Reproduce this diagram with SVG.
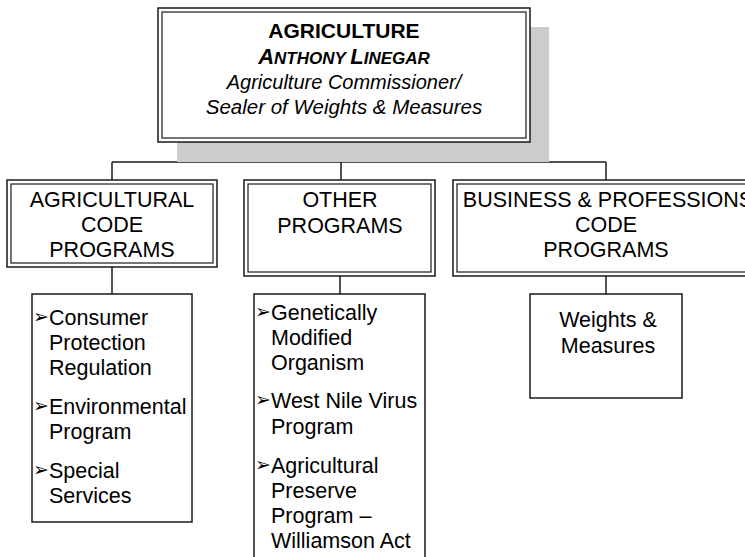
<svg xmlns="http://www.w3.org/2000/svg" width="745" height="557" viewBox="0 0 745 557">
<style>
text{font-family:"Liberation Sans",Arial,sans-serif;fill:#000;}
.t{font-size:21.5px;}
.c{text-anchor:middle;}
.box{fill:#fff;stroke:#1a1a1a;stroke-width:1.5;}
.in{fill:none;stroke:#1a1a1a;stroke-width:1.2;}
.ln{stroke:#1a1a1a;stroke-width:1.5;fill:none;}
.b{font-family:"DejaVu Sans",sans-serif;font-size:19px;}
</style>
<rect width="745" height="557" fill="#fff"/>
<g id="connectors">
<line class="ln" x1="343" y1="142" x2="343" y2="162"/>
<line class="ln" x1="112" y1="162" x2="606" y2="162"/>
<line class="ln" x1="112" y1="162" x2="112" y2="180"/>
<line class="ln" x1="341" y1="162" x2="341" y2="180"/>
<line class="ln" x1="606" y1="162" x2="606" y2="180"/>
<line class="ln" x1="112" y1="267" x2="112" y2="294"/>
<line class="ln" x1="340" y1="276" x2="340" y2="294"/>
<line class="ln" x1="606" y1="276" x2="606" y2="294"/>
</g>
<g id="agriculture">
<rect x="177" y="27" width="372" height="135" fill="#cccccc"/>
<rect class="box" x="158" y="8" width="372" height="134"/>
<rect class="in" x="162" y="12" width="364" height="126"/>
<text class="c" x="344" y="38" font-size="21" font-weight="bold">AGRICULTURE</text>
<text class="c" x="344" y="64" font-weight="bold" font-style="italic"><tspan font-size="22">A</tspan><tspan font-size="17">NTHONY </tspan><tspan font-size="22">L</tspan><tspan font-size="17">INEGAR</tspan></text>
<text class="c" x="344" y="89" font-size="20" font-style="italic">Agriculture Commissioner/</text>
<text class="c" x="344" y="114" font-size="20.5" font-style="italic">Sealer of Weights &amp; Measures</text>
</g>
<g id="agricultural-code">
<rect class="box" x="7" y="180" width="210" height="87"/>
<rect class="in" x="11" y="184" width="202" height="79"/>
<text class="t c" x="112" y="207">AGRICULTURAL</text>
<text class="t c" x="112" y="232">CODE</text>
<text class="t c" x="112" y="257">PROGRAMS</text>
</g>
<g id="other-programs">
<rect class="box" x="244" y="180" width="191" height="96"/>
<rect class="in" x="248" y="184" width="183" height="88"/>
<text class="t c" x="340" y="207">OTHER</text>
<text class="t c" x="340" y="233">PROGRAMS</text>
</g>
<g id="business-code">
<rect class="box" x="453" y="180" width="300" height="96"/>
<rect class="in" x="457" y="184" width="292" height="88"/>
<text class="t c" x="608" y="207">BUSINESS &amp; PROFESSIONS</text>
<text class="t c" x="606" y="232">CODE</text>
<text class="t c" x="606" y="257">PROGRAMS</text>
</g>
<g id="agricultural-list">
<rect class="box" x="32" y="294" width="160" height="228"/>
<text class="b" x="33" y="323">➢</text>
<text class="t" x="49" y="325">Consumer</text>
<text class="t" x="49" y="350">Protection</text>
<text class="t" x="49" y="375">Regulation</text>
<text class="b" x="33" y="412">➢</text>
<text class="t" x="49" y="414">Environmental</text>
<text class="t" x="49" y="439">Program</text>
<text class="b" x="33" y="476">➢</text>
<text class="t" x="49" y="478">Special</text>
<text class="t" x="49" y="503">Services</text>
</g>
<g id="other-list">
<rect class="box" x="254" y="294" width="171" height="270"/>
<text class="b" x="255" y="318">➢</text>
<text class="t" x="271" y="320">Genetically</text>
<text class="t" x="271" y="345">Modified</text>
<text class="t" x="271" y="370">Organism</text>
<text class="b" x="255" y="406">➢</text>
<text class="t" x="271" y="408">West Nile Virus</text>
<text class="t" x="271" y="434">Program</text>
<text class="b" x="255" y="471">➢</text>
<text class="t" x="271" y="473">Agricultural</text>
<text class="t" x="271" y="498">Preserve</text>
<text class="t" x="271" y="523">Program –</text>
<text class="t" x="271" y="548">Williamson Act</text>
</g>
<g id="weights-measures">
<rect class="box" x="530" y="294" width="152" height="104"/>
<text class="t c" x="608" y="327">Weights &amp;</text>
<text class="t c" x="608" y="353">Measures</text>
</g>
</svg>
